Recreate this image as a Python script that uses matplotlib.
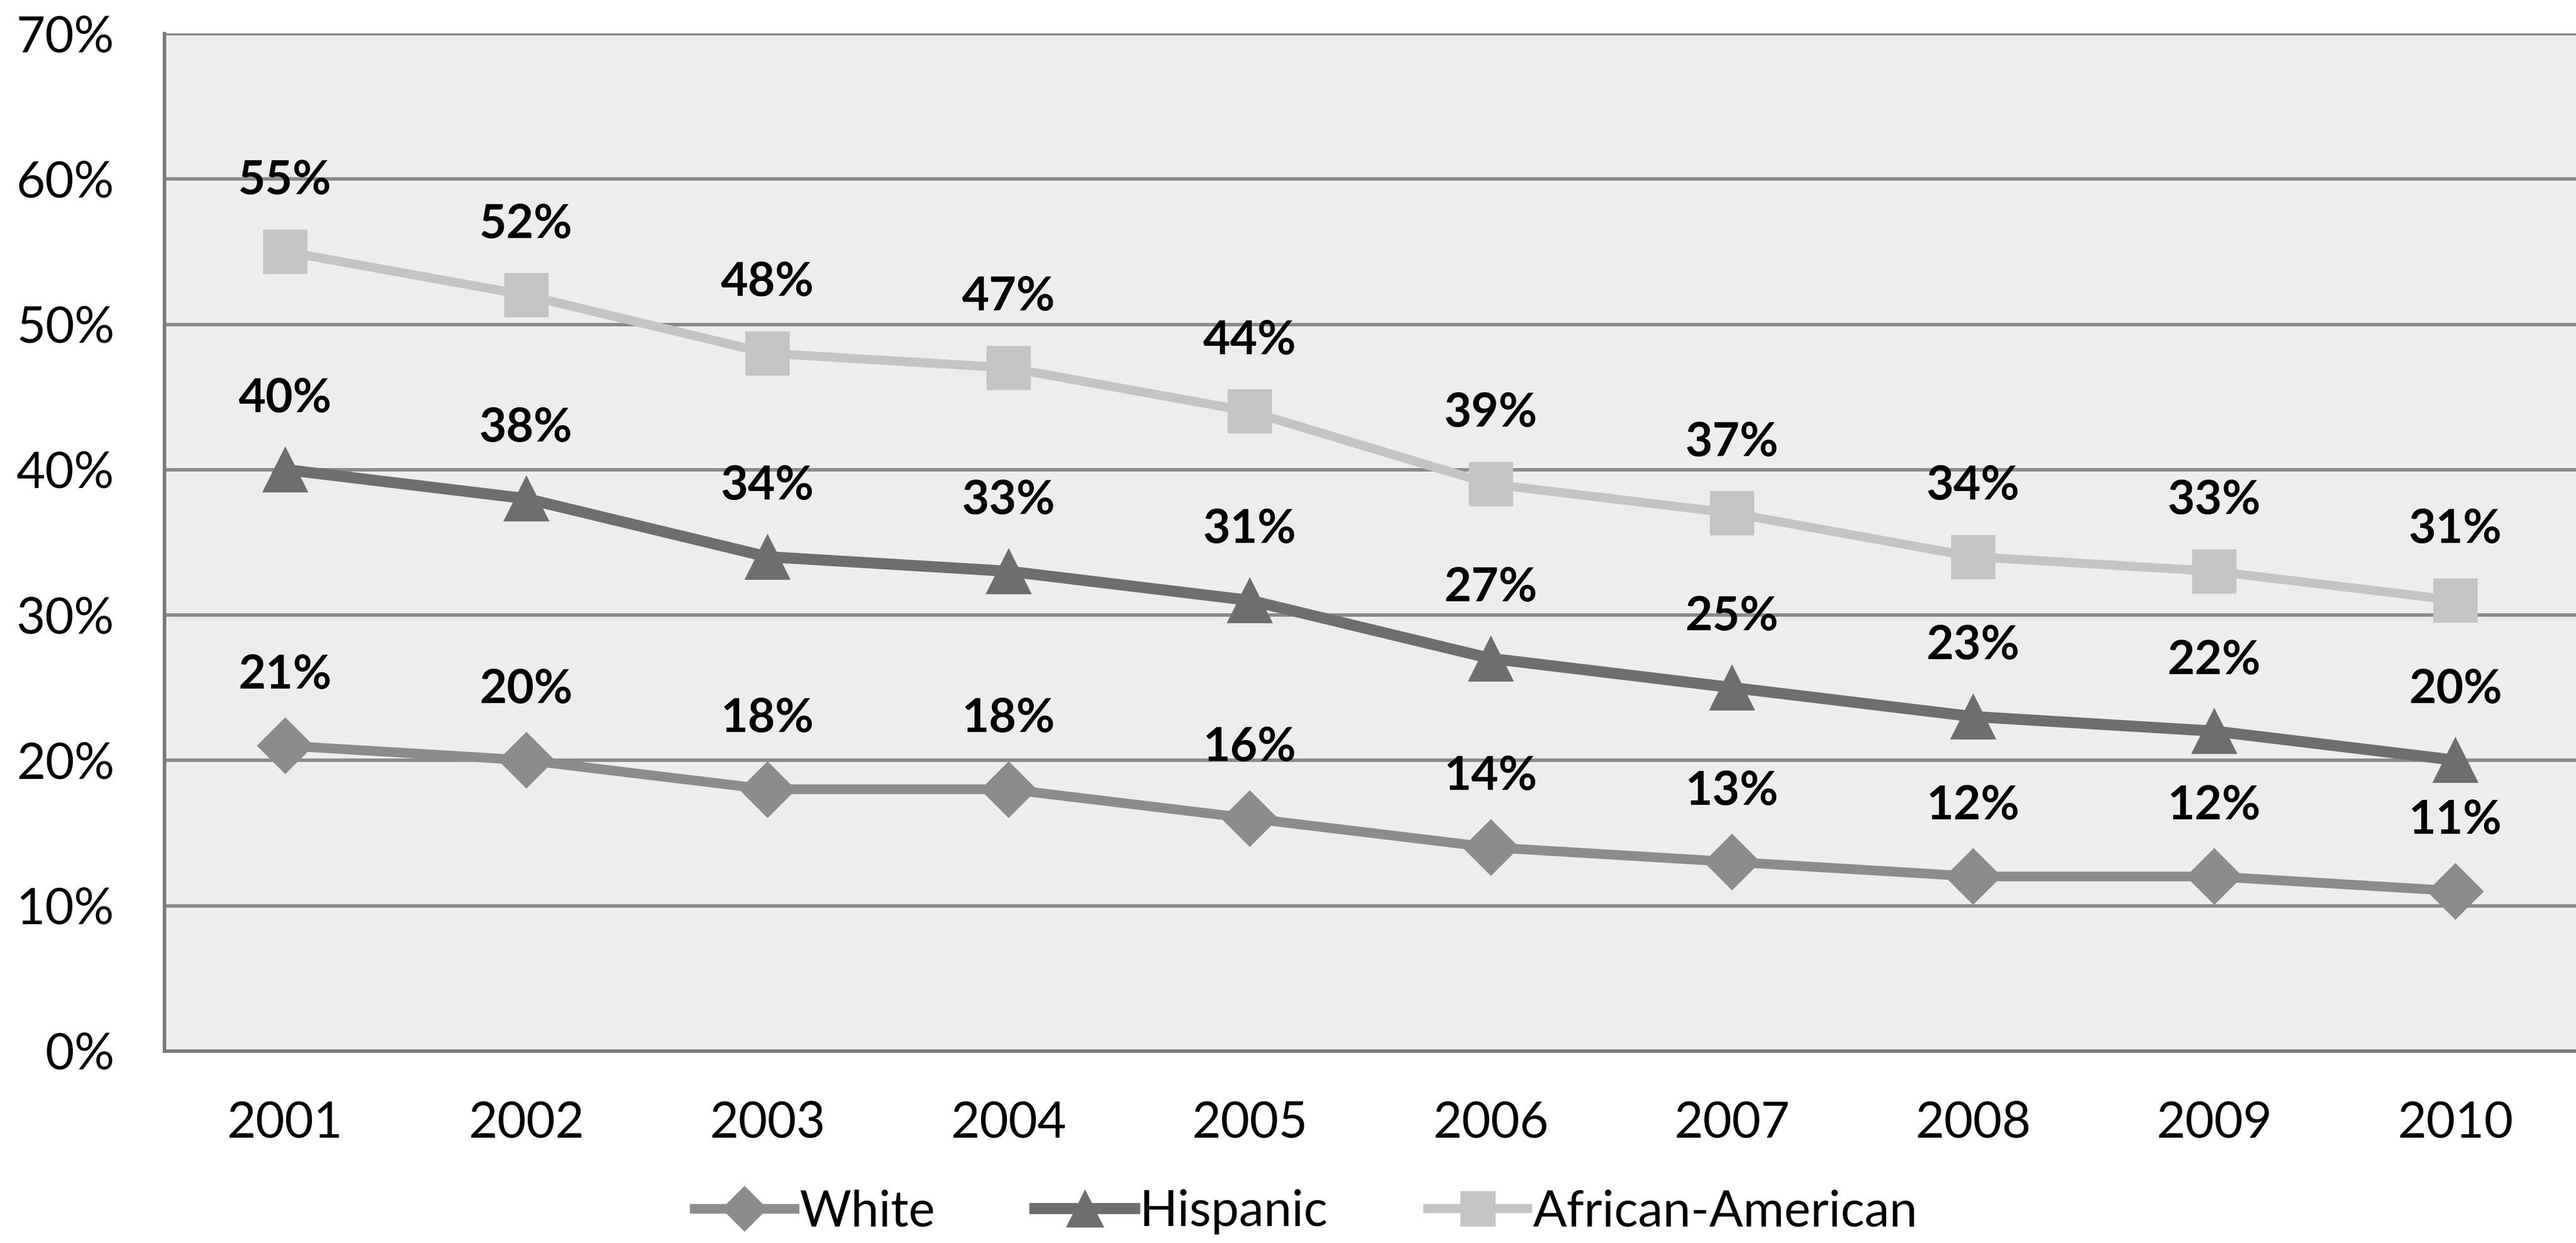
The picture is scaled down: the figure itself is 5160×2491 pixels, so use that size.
import matplotlib
matplotlib.use("Agg")
from matplotlib import pyplot as plt
from matplotlib.ticker import FuncFormatter

# dados
anos = ['2001', '2002', '2003', '2004', '2005', '2006', '2007', '2008', '2009', '2010']
white = [21, 20, 18, 18, 16, 14, 13, 12, 12, 11]
hispanic = [40, 38, 34, 33, 31, 27, 25, 23, 22, 20]
african_american = [55, 52, 48, 47, 44, 39, 37, 34, 33, 31]
y_ticks = [0, 10, 20, 30, 40, 50, 60, 70]

plt.rcParams['font.family'] = ['Lato', 'DejaVu Sans']
plt.rcParams['hatch.color'] = '#9a9a9a'
plt.rcParams['hatch.linewidth'] = 0.6

fig = plt.figure(figsize=(25.8, 12.455), dpi=200)
ax = fig.add_axes([0.0638, 0.1546, 0.9362, 0.8184])
ax.patch.set_facecolor('#ededed')
ax.patch.set_hatch('....')

x = list(range(len(anos)))
series = [
    ('White', white, '#8c8c8c', 'D', 28, 7),
    ('Hispanic', hispanic, '#6e6e6e', '^', 32, 8),
    ('African-American', african_american, '#c4c4c4', 's', 31, 6.5),
]
for nome, valores, cor, marcador, tam, lw in series:
    ax.plot(x, valores, color=cor, marker=marcador, markersize=tam, linewidth=lw,
            label=nome, zorder=3)
    for xi, v in zip(x, valores):
        ax.annotate(f'{v}%', (xi, v), xytext=(0, 51), textcoords='offset points',
                    ha='center', va='center', fontsize=34, fontweight='bold', zorder=4)

ax.set_xlim(-0.5, len(anos) - 0.5)
ax.set_ylim(0, 70)
ax.set_xticks(x)
ax.set_xticklabels(anos)
ax.set_yticks(y_ticks)
ax.yaxis.set_major_formatter(FuncFormatter(lambda v, p: f'{int(v)}%'))
ax.tick_params(axis='both', labelsize=36, length=0)
ax.tick_params(axis='x', pad=36)
ax.tick_params(axis='y', pad=36)
ax.grid(axis='y', color='#8a8a8a', linewidth=2.5, zorder=1)
ax.set_axisbelow(True)
for lado in ['top', 'right']:
    ax.spines[lado].set_visible(False)
ax.spines['left'].set_color('#7a7a7a')
ax.spines['left'].set_linewidth(2.5)
ax.spines['bottom'].set_color('#7a7a7a')
ax.spines['bottom'].set_linewidth(2.5)

fig.legend(loc='center', bbox_to_anchor=(0.507, 0.025), ncol=3, frameon=False,
           fontsize=36, handlelength=2.0, columnspacing=2.0, handletextpad=0.1,
           markerscale=0.8)

plt.savefig('out.png', dpi=200)
